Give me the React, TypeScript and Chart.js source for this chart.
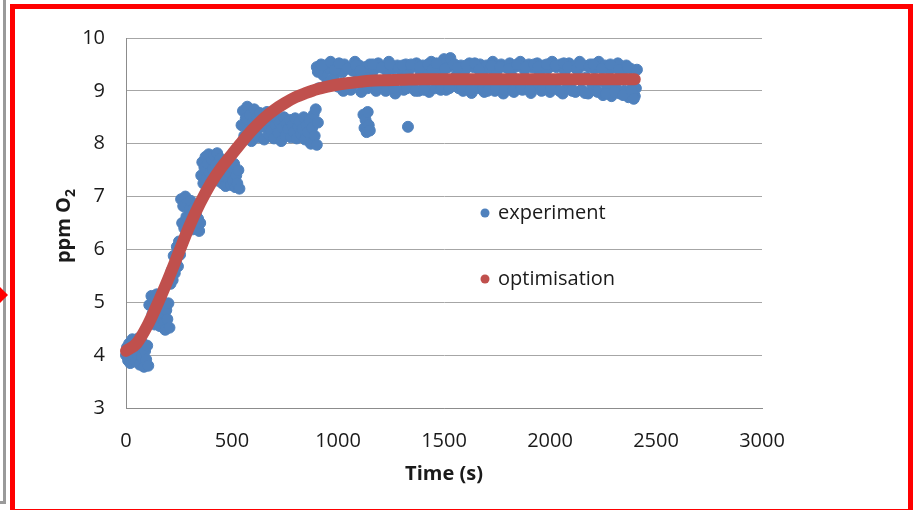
import { useEffect, useRef } from "react";
import { Chart, registerables } from "chart.js";

Chart.register(...registerables);

// ---- data ----
const rampTime = [
  0, 5, 10, 15, 20, 25, 30, 35, 40, 45, 50, 55, 60, 65, 70, 75, 80, 85, 90, 95, 100, 105,
  110, 115, 120, 125, 130, 135, 140, 145, 150, 155, 160, 165, 170, 175, 180, 185, 190, 195, 200, 205,
  210, 215, 220, 225, 230, 235, 240, 245, 250, 255,
  260, 265, 270, 275, 280, 285, 290, 295, 300, 305, 310, 315, 320, 325, 330, 335, 340, 345, 350,
  355, 360, 365, 370, 375, 380, 385, 390, 395, 400, 405, 410, 415, 420, 425, 430, 435, 440, 445,
  450, 455, 460, 465, 470, 475, 480, 485, 490, 495, 500, 505, 510, 515, 520, 525, 530, 535,
];
const rampO2 = [
  4.0, 4.15, 3.9, 4.22, 3.85, 4.1, 4.3, 3.95, 4.25, 3.88, 4.12, 4.02, 4.32, 3.82, 4.15, 3.97, 4.22, 3.78, 4.08, 3.92, 4.18, 3.8,
  4.95, 4.62, 5.12, 4.78, 5.05, 4.58, 4.9, 5.15, 4.7, 4.98, 4.55, 5.08, 4.82, 4.95, 4.62, 4.48, 4.85, 4.68, 4.98, 4.52,
  5.35, 5.6, 5.42, 5.88, 5.55, 5.78, 6.05, 5.68, 6.15, 5.9,
  6.95, 6.5, 6.82, 6.4, 7.0, 6.62, 6.88, 6.45, 6.75, 6.92, 6.55, 6.38, 6.78, 6.48, 6.65, 6.42, 6.58, 6.35, 6.5,
  7.4, 7.65, 7.25, 7.55, 7.75, 7.35, 7.62, 7.8, 7.45, 7.28, 7.7, 7.52, 7.78, 7.38, 7.6, 7.82, 7.3, 7.48, 7.72,
  7.55, 7.25, 7.65, 7.42, 7.2, 7.58, 7.35, 7.68, 7.45, 7.22, 7.55, 7.3, 7.62, 7.18, 7.4, 7.25, 7.5, 7.15,
];

const shoulderTime = [
  545, 552, 558, 565, 572, 578, 585, 592, 598, 605, 612, 618, 625, 632, 638, 645, 652, 658, 665, 672,
  678, 685, 692, 698, 705, 712, 718, 725, 732, 738, 745, 752, 758, 765, 772, 778, 785, 792, 798, 805,
  812, 818, 825, 832, 838, 845, 852, 858, 865, 872, 878, 885, 890, 895, 900, 905,
];
const shoulderO2 = [
  8.35, 8.62, 8.15, 8.48, 8.7, 8.28, 8.55, 8.05, 8.4, 8.65, 8.22, 8.5, 8.12, 8.58, 8.32, 8.45, 8.08, 8.38, 8.6, 8.18,
  8.42, 8.25, 8.52, 8.1, 8.35, 8.48, 8.2, 8.4, 8.05, 8.3, 8.5, 8.15, 8.38, 8.28, 8.45, 8.12, 8.35, 8.22, 8.48, 8.1,
  8.32, 8.42, 8.18, 8.28, 8.5, 8.08, 8.35, 8.22, 8.45, 8.0, 8.3, 8.55, 8.15, 8.65, 7.98, 8.4,
];

const outlierTime = [1120, 1125, 1130, 1135, 1140, 1145, 1150, 1330];
const outlierO2 = [8.55, 8.3, 8.45, 8.22, 8.6, 8.35, 8.25, 8.32];

const plateauTime = [
  900, 910, 920, 930, 940, 950, 960, 970, 980, 990,
  1000, 1010, 1020, 1030, 1040, 1050, 1060, 1070, 1080, 1090,
  1100, 1110, 1120, 1130, 1140, 1150, 1160, 1170, 1180, 1190,
  1200, 1210, 1220, 1230, 1240, 1250, 1260, 1270, 1280, 1290,
  1300, 1310, 1320, 1330, 1340, 1350, 1360, 1370, 1380, 1390,
  1400, 1410, 1420, 1430, 1440, 1450, 1460, 1470, 1480, 1490,
  1500, 1510, 1520, 1530, 1540, 1550, 1560, 1570, 1580, 1590,
  1600, 1610, 1620, 1630, 1640, 1650, 1660, 1670, 1680, 1690,
  1700, 1710, 1720, 1730, 1740, 1750, 1760, 1770, 1780, 1790,
  1800, 1810, 1820, 1830, 1840, 1850, 1860, 1870, 1880, 1890,
  1900, 1910, 1920, 1930, 1940, 1950, 1960, 1970, 1980, 1990,
  2000, 2010, 2020, 2030, 2040, 2050, 2060, 2070, 2080, 2090,
  2100, 2110, 2120, 2130, 2140, 2150, 2160, 2170, 2180, 2190,
  2200, 2210, 2220, 2230, 2240, 2250, 2260, 2270, 2280, 2290,
  2300, 2310, 2320, 2330, 2340, 2350, 2360, 2370, 2380, 2390,
  2400, 2405, 2410,
];
const plateauO2 = [
  9.45, 9.05, 9.5, 9.3, 9.48, 9.15, 9.42, 9.52, 9.25, 9.4,
  9.08, 9.46, 9.35, 9.5, 9.12, 9.44, 9.02, 9.38, 9.55, 9.2,
  9.48, 8.98, 9.32, 9.45, 9.05, 9.5, 9.28, 9.4, 9.0, 9.52,
  9.15, 9.45, 9.05, 9.38, 9.55, 9.1, 9.42, 8.95, 9.48, 9.22,
  9.4, 9.02, 9.5, 9.3, 9.08, 9.45, 9.18, 9.52, 9.0, 9.35,
  9.48, 9.1, 9.42, 8.98, 9.55, 9.25, 9.05, 9.46, 9.15, 9.38,
  9.6, 9.02, 9.45, 9.62, 9.1, 9.5, 9.3, 9.05, 9.48, 9.0,
  9.4, 9.12, 9.52, 8.96, 9.45, 9.2, 9.05, 9.5, 9.35, 8.98,
  9.48, 9.08, 9.42, 9.55, 9.0, 9.38, 9.15, 9.5, 8.95, 9.45,
  9.05, 9.52, 9.28, 8.98, 9.46, 9.12, 9.55, 9.02, 9.4, 9.2,
  9.5, 8.96, 9.44, 9.1, 9.52, 9.3, 9.0, 9.48, 9.18, 9.42,
  8.98, 9.55, 9.08, 9.45, 9.22, 9.5, 8.95, 9.38, 9.05, 9.52,
  9.15, 9.46, 8.98, 9.4, 9.55, 9.02, 9.48, 9.25, 8.95, 9.5,
  9.1, 9.42, 9.0, 9.55, 9.18, 8.92, 9.48, 9.05, 9.4, 8.9,
  9.45, 9.08, 9.52, 8.95, 9.35, 9.0, 9.48, 8.88, 9.42, 9.1,
  8.9, 9.05, 9.4,
];

// extra plateau readings between the ones above
const plateauTime2 = [
  905, 925, 945, 965, 985, 1005, 1025, 1045, 1065, 1085,
  1105, 1165, 1185, 1205, 1225, 1245, 1265, 1285, 1305, 1325,
  1345, 1365, 1385, 1405, 1425, 1445, 1465, 1485, 1505, 1525,
  1545, 1565, 1585, 1605, 1625, 1645, 1665, 1685, 1705, 1725,
  1745, 1765, 1785, 1805, 1825, 1845, 1865, 1885, 1905, 1925,
  1945, 1965, 1985, 2005, 2025, 2045, 2065, 2085, 2105, 2125,
  2145, 2165, 2185, 2205, 2225, 2245, 2265, 2285, 2305, 2325,
  2345, 2365, 2385, 2395,
];
const plateauO2_2 = [
  9.36, 9.48, 9.1, 9.55, 9.4, 9.52, 9.0, 9.42, 9.1, 9.48,
  9.38, 9.5, 9.05, 9.44, 9.0, 9.5, 9.05, 9.42, 9.48, 9.05,
  9.5, 9.0, 9.45, 9.02, 9.5, 9.4, 9.52, 9.02, 9.42, 9.05,
  9.5, 9.44, 9.08, 9.48, 9.02, 9.52, 9.4, 9.05, 9.0, 9.48,
  9.05, 9.46, 9.02, 9.42, 9.0, 9.5, 9.05, 9.45, 9.02, 9.5,
  9.46, 9.02, 9.5, 9.05, 9.48, 9.0, 9.52, 9.45, 9.0, 9.42,
  9.5, 8.96, 9.45, 9.5, 8.98, 9.42, 8.95, 9.5, 8.98, 9.4,
  8.92, 9.45, 9.0, 8.85,
];

const optTime = [
  0, 50, 100, 150, 200, 250, 300, 350, 400, 450, 500, 550, 600, 650, 700, 750, 800, 850, 900, 950,
  1000, 1050, 1100, 1150, 1200, 1300, 1400, 1600, 1800, 2000, 2200, 2400,
];
const optO2 = [
  4.08, 4.22, 4.55, 4.98, 5.45, 5.95, 6.45, 6.88, 7.25, 7.55, 7.8, 8.05, 8.28, 8.48, 8.64, 8.77, 8.88, 8.96, 9.03, 9.08,
  9.12, 9.15, 9.17, 9.19, 9.2, 9.21, 9.22, 9.22, 9.22, 9.22, 9.22, 9.22,
];

const xTicks = [0, 500, 1000, 1500, 2000, 2500, 3000];
const yTicks = [3, 4, 5, 6, 7, 8, 9, 10];

const seriesNames = ["experiment", "optimisation"];
const xTitle = "Time (s)";
const yTitleMain = "ppm O";
const yTitleSub = "2";

const BLUE = "#4F81BD";
const RED = "#C0504D";
const TEXT = "#1a1a1a";
const GRID = "#a6a6a6";
const AXIS = "#8c8c8c";
const FONT = "'Open Sans', 'Liberation Sans', sans-serif";

export default function App() {
  const ref = useRef<HTMLCanvasElement>(null);

  useEffect(() => {
    if (!ref.current) return;
    const zip = (t: number[], v: number[]) => t.map((x, i) => ({ x, y: v[i] }));
    const expData = [
      ...zip(rampTime, rampO2),
      ...zip(shoulderTime, shoulderO2),
      ...zip(outlierTime, outlierO2),
      ...zip(plateauTime, plateauO2),
      ...zip(plateauTime2, plateauO2_2),
    ];
    const optData = zip(optTime, optO2);

    const overlay = {
      id: "overlay",
      afterDraw(chart: any) {
        const ctx = chart.ctx as CanvasRenderingContext2D;
        const a = chart.chartArea;
        ctx.save();
        // y-axis title with subscript
        ctx.fillStyle = TEXT;
        ctx.translate(63, (a.top + a.bottom) / 2 + 3);
        ctx.rotate(-Math.PI / 2);
        ctx.font = `bold 20px ${FONT}`;
        const w1 = ctx.measureText(yTitleMain).width;
        ctx.font = `bold 14px ${FONT}`;
        const w2 = ctx.measureText(yTitleSub).width;
        const start = -(w1 + w2) / 2;
        ctx.textBaseline = "alphabetic";
        ctx.textAlign = "left";
        ctx.font = `bold 20px ${FONT}`;
        ctx.fillText(yTitleMain, start, 7);
        ctx.font = `bold 14px ${FONT}`;
        ctx.fillText(yTitleSub, start + w1, 12);
        ctx.restore();

        // x-axis title
        ctx.save();
        ctx.fillStyle = TEXT;
        ctx.font = `bold 20px ${FONT}`;
        ctx.textAlign = "center";
        ctx.textBaseline = "middle";
        ctx.fillText(xTitle, (a.left + a.right) / 2, a.bottom + 66);
        ctx.restore();

        // legend inside plot
        ctx.save();
        const lx = a.left + 359;
        const rows = [a.top + 175, a.top + 241];
        const cols = [BLUE, RED];
        ctx.font = `20px ${FONT}`;
        ctx.textAlign = "left";
        ctx.textBaseline = "middle";
        rows.forEach((y, i) => {
          ctx.fillStyle = cols[i];
          ctx.beginPath();
          ctx.arc(lx, y, 4.5, 0, Math.PI * 2);
          ctx.fill();
          ctx.fillStyle = TEXT;
          ctx.fillText(seriesNames[i], lx + 13, y);
        });
        ctx.restore();
      },
    };

    const chart = new Chart(ref.current, {
      type: "scatter",
      data: {
        datasets: [
          {
            label: seriesNames[1],
            data: optData,
            showLine: true,
            borderColor: RED,
            backgroundColor: RED,
            borderWidth: 12,
            pointRadius: 0,
            cubicInterpolationMode: "monotone",
            borderCapStyle: "round",
            borderJoinStyle: "round",
            clip: false,
            order: 0,
          } as any,
          {
            label: seriesNames[0],
            data: expData,
            pointRadius: 5.5,
            pointBorderWidth: 1,
            backgroundColor: BLUE,
            borderColor: BLUE,
            clip: false,
            order: 1,
          } as any,
        ],
      },
      options: {
        animation: false,
        responsive: false,
        events: [],
        layout: { padding: { left: 0, top: 38, right: 151, bottom: 0 } },
        plugins: { legend: { display: false }, tooltip: { enabled: false } },
        scales: {
          x: {
            type: "linear",
            min: 0,
            max: 3000,
            afterBuildTicks: (s: any) => {
              s.ticks = xTicks.map((value) => ({ value }));
            },
            grid: { display: false },
            border: { display: true, color: AXIS, width: 1 },
            ticks: {
              font: { family: FONT, size: 20 },
              color: TEXT,
              padding: 13,
              maxRotation: 0,
              autoSkip: false,
              callback: (v: any) => String(v),
            },
            afterFit: (s: any) => {
              s.height = 102;
            },
          },
          y: {
            type: "linear",
            min: 3,
            max: 10,
            afterBuildTicks: (s: any) => {
              s.ticks = yTicks.map((value) => ({ value }));
            },
            grid: { color: GRID, drawTicks: false, lineWidth: 1 },
            border: { display: true, color: AXIS, width: 1 },
            ticks: {
              font: { family: FONT, size: 20 },
              color: TEXT,
              padding: 21,
              autoSkip: false,
              callback: (v: any) => String(v),
            },
            afterFit: (s: any) => {
              s.width = 126;
            },
          },
        },
      },
      plugins: [overlay],
    });
    return () => chart.destroy();
  }, []);

  return (
    <div
      style={{
        position: "fixed",
        left: 0,
        top: 0,
        width: 913,
        height: 510,
        background: "#fff",
        overflow: "hidden",
      }}
    >
      <canvas
        ref={ref}
        width={913}
        height={510}
        style={{ position: "absolute", left: 0, top: 0, width: 913, height: 510 }}
      />
      <div
        style={{
          position: "absolute",
          left: -20,
          top: -20,
          width: 26,
          height: 524,
          boxSizing: "border-box",
          border: "3px solid #9a9a9a",
        }}
      />
      <div
        style={{
          position: "absolute",
          left: 10,
          top: 4,
          width: 903,
          height: 510,
          boxSizing: "border-box",
          border: "5px solid #ff0000",
        }}
      />
      <div
        style={{
          position: "absolute",
          left: 0,
          top: 287,
          width: 0,
          height: 0,
          borderTop: "8px solid transparent",
          borderBottom: "8px solid transparent",
          borderLeft: "8px solid #ff0000",
        }}
      />
    </div>
  );
}
